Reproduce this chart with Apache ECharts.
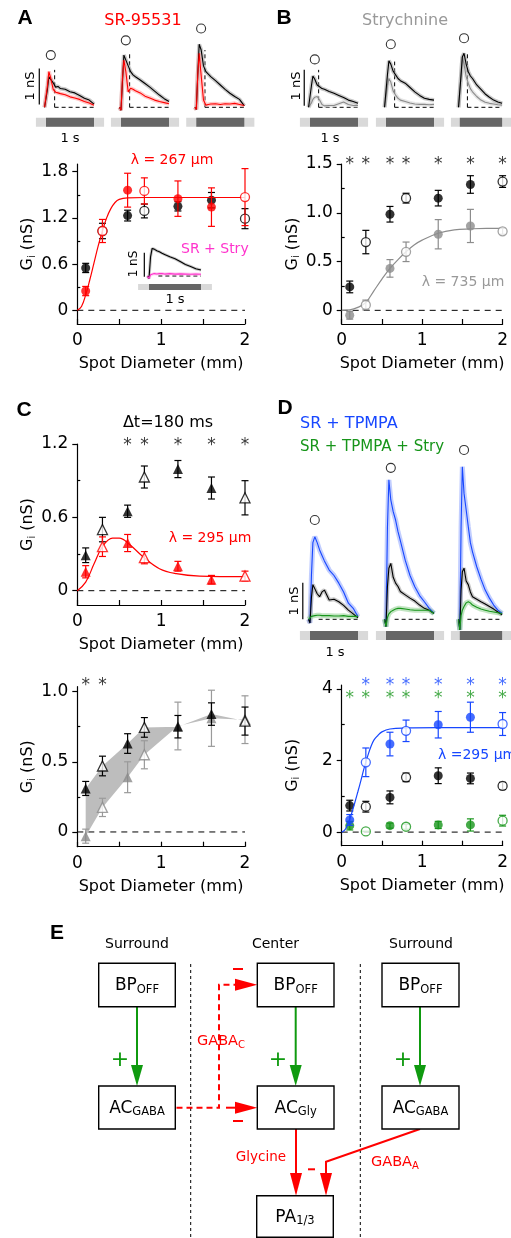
<!DOCTYPE html>
<html><head><meta charset="utf-8">
<script src="https://cdn.jsdelivr.net/npm/echarts@6/dist/echarts.min.js"></script>
<style>html,body{margin:0;padding:0;background:#fff}#c{width:511px;height:1238px}</style>
</head><body><div id="c"></div>
<script>
// ================= DATA =================
const diam = [0.1, 0.3, 0.6, 0.8, 1.2, 1.6, 2.0];
const filled = [1, 0, 1, 0, 1, 1, 0];

// Panel A (SR-95531)
const aCtrl    = [0.55, 1.03, 1.23, 1.29, 1.35, 1.43, 1.19];
const aCtrlErr = [0.06, 0.10, 0.07, 0.09, 0.06, 0.10, 0.13];
const aSR      = [0.25, 1.03, 1.56, 1.55, 1.45, 1.34, 1.47];
const aSRErr   = [0.06, 0.15, 0.22, 0.17, 0.23, 0.25, 0.37];
const aFitX = [0, 0.05, 0.1, 0.15, 0.2, 0.25, 0.3, 0.35, 0.4, 0.45, 0.5, 0.6, 0.8, 1.2, 1.6, 2.0];
const aFitY = [0, 0.05, 0.2, 0.4, 0.62, 0.84, 1.03, 1.2, 1.32, 1.4, 1.44, 1.46, 1.465, 1.465, 1.465, 1.465];

// Panel B (Strychnine)
const bCtrl    = [0.24, 0.70, 0.985, 1.15, 1.15, 1.29, 1.32];
const bCtrlErr = [0.06, 0.12, 0.08, 0.05, 0.08, 0.09, 0.06];
const bStry    = [-0.05, 0.055, 0.43, 0.60, 0.78, 0.865, 0.81];
const bStryErr = [0.04, 0.05, 0.09, 0.10, 0.15, 0.17, 0.03];
const bFitX = [0, 0.1, 0.2, 0.3, 0.4, 0.5, 0.6, 0.7, 0.8, 0.9, 1.0, 1.2, 1.4, 1.6, 1.8, 2.0];
const bFitY = [0, 0.005, 0.03, 0.08, 0.2, 0.32, 0.43, 0.52, 0.6, 0.67, 0.72, 0.79, 0.825, 0.835, 0.84, 0.84];
const bStars = [0.1, 0.3, 0.6, 0.8, 1.2, 1.6, 2.0];

// Panel C top (Δt = 180 ms)
const cCtrl    = [0.29, 0.50, 0.65, 0.93, 0.995, 0.84, 0.76];
const cCtrlErr = [0.06, 0.10, 0.05, 0.09, 0.07, 0.09, 0.14];
const cSR      = [0.155, 0.36, 0.39, 0.27, 0.20, 0.09, 0.12];
const cSRErr   = [0.05, 0.08, 0.07, 0.05, 0.04, 0.035, 0.04];
const cFitX = [0, 0.1, 0.2, 0.3, 0.42, 0.5, 0.62, 0.78, 0.98, 1.18, 1.46, 2.0];
const cFitY = [0, 0.07, 0.22, 0.36, 0.43, 0.43, 0.38, 0.28, 0.18, 0.14, 0.12, 0.115];
const cStars = [0.6, 0.8, 1.2, 1.6, 2.0];

// Panel C bottom
const c2Ctrl    = [0.31, 0.47, 0.63, 0.745, 0.75, 0.84, 0.79];
const c2CtrlErr = [0.05, 0.07, 0.07, 0.07, 0.08, 0.08, 0.10];
const c2Stry    = [-0.03, 0.175, 0.39, 0.55, 0.755, 0.81, 0.80];
const c2StryErr = [0.05, 0.065, 0.11, 0.10, 0.17, 0.20, 0.17];
const c2Stars = [0.1, 0.3];

// Panel D
const dCtrl    = [0.74, 0.71, 0.97, 1.53, 1.575, 1.50, 1.29];
const dCtrlErr = [0.15, 0.15, 0.18, 0.12, 0.22, 0.15, 0.10];
const dTp      = [0.34, 1.95, 2.46, 2.83, 3.0, 3.21, 3.02];
const dTpErr   = [0.15, 0.40, 0.33, 0.30, 0.37, 0.42, 0.32];
const dTpS     = [0.18, 0.02, 0.18, 0.15, 0.20, 0.20, 0.32];
const dTpSErr  = [0.12, 0.0, 0.07, 0.07, 0.10, 0.17, 0.15];
const dFitX = [0, 0.04, 0.08, 0.12, 0.16, 0.2, 0.24, 0.28, 0.32, 0.36, 0.4, 0.45, 0.5, 0.6, 0.8, 1.2, 2.0];
const dFitY = [0, 0.06, 0.25, 0.5, 0.8, 1.12, 1.45, 1.8, 2.1, 2.37, 2.57, 2.7, 2.8, 2.88, 2.91, 2.92, 2.92];
const dStarsBlue  = [0.3, 0.6, 0.8, 1.2, 1.6, 2.0];
const dStarsGreen = [0.1, 0.3, 0.6, 0.8, 1.2, 1.6, 2.0];

// Conductance traces (time in s, values in nS)
const tT = [-0.03, 0, 0.03, 0.06, 0.1, 0.15, 0.2, 0.25, 0.3, 0.4, 0.5, 0.6, 0.7, 0.8, 0.9, 1.0];
const A1ctrl = [0, -0.05, 0.5, 0.85, 0.9, 0.68, 0.56, 0.58, 0.52, 0.5, 0.43, 0.4, 0.33, 0.25, 0.2, 0.09];
const A1sr   = [0, -0.05, 0.6, 0.99, 0.8, 0.5, 0.42, 0.4, 0.38, 0.35, 0.29, 0.26, 0.22, 0.16, 0.12, 0.06];
const A2ctrl = [0, -0.08, 0.7, 1.45, 1.5, 1.15, 0.99, 0.9, 0.85, 0.76, 0.66, 0.56, 0.45, 0.34, 0.24, 0.16];
const A2sr   = [0, -0.08, 0.8, 1.31, 1.0, 0.43, 0.53, 0.5, 0.46, 0.4, 0.31, 0.26, 0.2, 0.16, 0.13, 0.1];
const A3ctrl = [0, -0.06, 0.9, 1.75, 1.6, 1.15, 0.99, 0.92, 0.85, 0.74, 0.62, 0.5, 0.39, 0.3, 0.22, 0.04];
const A3sr   = [0, -0.06, 0.9, 1.5, 0.9, 0.2, 0.06, 0.08, 0.09, 0.1, 0.08, 0.1, 0.09, 0.11, 0.08, 0.05];
const AinCtrl = [0, -0.1, 0.8, 1.15, 1.12, 1.05, 1.01, 0.95, 0.9, 0.8, 0.72, 0.6, 0.48, 0.4, 0.3, 0.25];
const AinStry = [0, -0.1, 0.05, 0.08, 0.1, 0.08, 0.1, 0.1, 0.08, 0.1, 0.08, 0.09, 0.08, 0.07, 0.08, 0.07];
const B1ctrl = [0, -0.04, 0.6, 0.87, 0.78, 0.62, 0.57, 0.52, 0.5, 0.44, 0.39, 0.33, 0.27, 0.2, 0.16, 0.11];
const B1stry = [0, -0.04, 0.12, 0.22, 0.28, 0.3, 0.2, 0.08, 0.04, 0.05, 0.05, 0.1, 0.15, 0.08, 0.05, 0.05];
const B2ctrl = [0, -0.05, 0.9, 1.29, 1.2, 1.0, 0.9, 0.8, 0.74, 0.67, 0.55, 0.43, 0.33, 0.25, 0.22, 0.2];
const B2stry = [0, -0.05, 0.6, 0.8, 0.7, 0.45, 0.34, 0.25, 0.2, 0.16, 0.12, 0.09, 0.08, 0.08, 0.07, 0.08];
const B3ctrl = [0, -0.05, 0.9, 1.4, 1.5, 1.2, 0.99, 0.87, 0.8, 0.62, 0.5, 0.37, 0.28, 0.2, 0.15, 0.11];
const B3stry = [0, -0.05, 0.9, 1.4, 1.2, 0.85, 0.67, 0.52, 0.43, 0.3, 0.2, 0.14, 0.11, 0.09, 0.07, 0.06];
const D1tp  = [0, -0.1, 1.2, 2.1, 2.26, 2.1, 1.9, 1.75, 1.6, 1.35, 1.2, 0.99, 0.75, 0.44, 0.3, 0.07];
const D1ctrl= [0, -0.1, 0.6, 0.95, 0.99, 0.7, 0.62, 0.75, 0.8, 0.53, 0.55, 0.48, 0.38, 0.25, 0.15, 0.04];
const D1tps = [0, -0.05, 0.08, 0.1, 0.1, 0.11, 0.11, 0.1, 0.1, 0.1, 0.09, 0.09, 0.1, 0.08, 0.08, 0.08];
const D2tp  = [0, -0.2, 2.5, 3.82, 3.27, 2.95, 2.72, 2.4, 2.15, 1.62, 1.2, 0.89, 0.65, 0.48, 0.3, 0.16];
const D2ctrl= [0, -0.2, 0.9, 1.4, 1.53, 1.15, 0.99, 0.9, 0.76, 0.67, 0.58, 0.5, 0.39, 0.3, 0.25, 0.16];
const D2tps = [0, -0.2, 0.05, 0.15, 0.21, 0.25, 0.28, 0.3, 0.3, 0.28, 0.26, 0.25, 0.25, 0.25, 0.25, 0.16];
const D3tp  = [0, -0.29, 2.5, 4.18, 3.45, 3.0, 2.54, 2.1, 1.85, 1.44, 1.1, 0.8, 0.58, 0.39, 0.25, 0.16];
const D3ctrl= [0, -0.29, 0.8, 1.3, 1.4, 1.05, 0.95, 0.75, 0.62, 0.55, 0.48, 0.42, 0.35, 0.28, 0.2, 0.12];
const D3tps = [0, -0.29, 0.1, 0.25, 0.35, 0.45, 0.48, 0.45, 0.39, 0.33, 0.28, 0.25, 0.22, 0.2, 0.18, 0.16];
// peak markers (○) above traces: [time, nS]
const circA = [1.45, 1.86, 2.19];
const circB = [1.33, 1.75, 1.92];
const circD = [2.72, 4.15, 4.64];
const circT = 0.1;
const stim = [0, 1.0];     // light step (s)
const dtMark = 0.18;       // Δt = 180 ms

// ================= BUILD =================
const FF = '"DejaVu Sans", sans-serif';
const RED = '#ff0000', GRAY = '#8c8c8c', BLUE = '#1747ff', GREEN = '#17951a', MAG = '#ff33cc';
const grids = [], xAxes = [], yAxes = [], series = [], graphics = [];

const gRich = {
  g: {fontSize: 16, fontFamily: FF, color: '#000', lineHeight: 18},
  s: {fontSize: 10, fontFamily: FF, color: '#000', lineHeight: 10, verticalAlign: 'bottom'}
};

function scatterPanel(box, yr, majors, minors, fmt) {
  const gi = grids.length; grids.push(box);
  const xi = xAxes.length;
  xAxes.push({gridIndex: gi, type: 'value', min: 0, max: 2, interval: 1,
    axisLine: {onZero: false, lineStyle: {color: '#000', width: 1.2}},
    axisTick: {inside: true, length: 5, lineStyle: {color: '#000', width: 1.2}},
    minorTick: {show: true, splitNumber: 2, length: 5, lineStyle: {color: '#000', width: 1.2}},
    splitLine: {show: false}, minorSplitLine: {show: false},
    axisLabel: {color: '#000', fontSize: 17, fontFamily: FF, margin: 8},
    name: 'Spot Diameter (mm)', nameLocation: 'middle', nameGap: 32,
    nameTextStyle: {color: '#000', fontSize: 16, fontFamily: FF}});
  const yi = yAxes.length;
  yAxes.push({gridIndex: gi, type: 'value', min: yr[0], max: yr[1],
    axisLine: {show: true, onZero: false, lineStyle: {color: '#000', width: 1.2}},
    axisTick: {show: true, customValues: majors, length: 5, lineStyle: {color: '#000', width: 1.2}},
    axisLabel: {customValues: majors, formatter: fmt, color: '#000', fontSize: 17, fontFamily: FF, margin: 9},
    splitLine: {show: false},
    name: '{g|G}{s|i}{g| (nS)}', nameLocation: 'middle', nameRotate: 90, nameGap: 40,
    nameTextStyle: {rich: gRich}});
  yAxes.push({gridIndex: gi, type: 'value', min: yr[0], max: yr[1],
    axisLine: {show: false}, axisLabel: {show: false}, splitLine: {show: false},
    axisTick: {show: true, customValues: minors, length: 3, lineStyle: {color: '#000', width: 1.2}}});
  return {xi, yi};
}

function tracePanel(stimLeft, pxPerS, pxPerNS, baseY, yr) {
  const pad = 0.21;
  const gi = grids.length;
  grids.push({left: stimLeft - pad * pxPerS, top: baseY - yr[1] * pxPerNS,
    width: (1 + 2 * pad) * pxPerS, height: (yr[1] - yr[0]) * pxPerNS});
  const xi = xAxes.length, yi = yAxes.length;
  xAxes.push({gridIndex: gi, type: 'value', min: -pad, max: 1 + pad, show: false});
  yAxes.push({gridIndex: gi, type: 'value', min: yr[0], max: yr[1], show: false});
  return {xi, yi, pad};
}

function lineS(ax, xs, ys, color, width, o = {}) {
  return Object.assign({type: 'line', xAxisIndex: ax.xi, yAxisIndex: ax.yi,
    data: xs.map((x, i) => [x, ys[i]]), showSymbol: false, symbol: 'none',
    smooth: o.smooth || false, clip: false, silent: true, animation: false, z: o.z || 3,
    lineStyle: {color, width, type: o.dash || 'solid', opacity: o.opacity ?? 1}}, o.extra || {});
}

function pointsS(ax, vals, color, sym, size, z) {
  return {type: 'scatter', xAxisIndex: ax.xi, yAxisIndex: ax.yi, clip: false, silent: true,
    animation: false, symbol: sym, symbolSize: size, z,
    data: diam.map((d, i) => ({value: [d, vals[i]],
      itemStyle: filled[i] ? {color} : {color: '#fff', borderColor: color, borderWidth: 1.3}}))};
}

function errS(ax, vals, errs, color, z) {
  return {type: 'custom', xAxisIndex: ax.xi, yAxisIndex: ax.yi, clip: false, silent: true, z,
    animation: false, encode: {x: 0, y: [1, 2]},
    data: diam.map((d, i) => [d, vals[i] - errs[i], vals[i] + errs[i]]),
    renderItem: (p, api) => {
      const x = api.value(0);
      const lo = api.coord([x, api.value(1)]), hi = api.coord([x, api.value(2)]);
      const c = 3.5, st = {stroke: color, lineWidth: 1.2};
      return {type: 'group', children: [
        {type: 'line', shape: {x1: lo[0], y1: lo[1], x2: hi[0], y2: hi[1]}, style: st},
        {type: 'line', shape: {x1: lo[0] - c, y1: lo[1], x2: lo[0] + c, y2: lo[1]}, style: st},
        {type: 'line', shape: {x1: hi[0] - c, y1: hi[1], x2: hi[0] + c, y2: hi[1]}, style: st}]};
    }};
}

function starsS(ax, xs, level, color) {
  return {type: 'scatter', xAxisIndex: ax.xi, yAxisIndex: ax.yi, clip: false, silent: true,
    animation: false, symbolSize: 1, itemStyle: {color: 'rgba(0,0,0,0)'}, z: 6,
    label: {show: true, position: 'inside', formatter: '*', color, fontSize: 17, fontFamily: FF},
    data: xs.map(x => [x, level])};
}

function zeroLine(ax) {
  return lineS(ax, [0, 2], [0, 0], '#000', 1, {dash: [6, 5], z: 1});
}

const fmtA = v => v === 0 ? '0' : v.toFixed(1);
const fmtI = v => String(v);

// ---- Panel A scatter
const pA = scatterPanel({left: 77.3, top: 164, width: 167.7, height: 160}, [-0.178, 1.9],
  [0, 0.6, 1.2, 1.8], [0.3, 0.9, 1.5], fmtA);
series.push(zeroLine(pA));
series.push(errS(pA, aCtrl, aCtrlErr, '#000', 3));
series.push(pointsS(pA, aCtrl, '#000', 'circle', 9, 4));
series.push(lineS(pA, aFitX, aFitY, RED, 1.2, {smooth: 0.4, z: 5}));
series.push(errS(pA, aSR, aSRErr, RED, 5));
series.push(pointsS(pA, aSR, RED, 'circle', 9, 6));

// ---- Panel B scatter
const pB = scatterPanel({left: 341.7, top: 164, width: 165.6, height: 160}, [-0.14, 1.5],
  [0, 0.5, 1.0, 1.5], [0.25, 0.75, 1.25], fmtA);
series.push(zeroLine(pB));
series.push(lineS(pB, bFitX, bFitY, GRAY, 1.2, {smooth: 0.4, z: 2}));
series.push(errS(pB, bCtrl, bCtrlErr, '#000', 3));
series.push(pointsS(pB, bCtrl, '#000', 'circle', 9, 4));
series.push(errS(pB, bStry, bStryErr, GRAY, 3));
series.push(pointsS(pB, bStry, GRAY, 'circle', 9, 4));
series.push(starsS(pB, bStars, 1.495, '#000'));

// ---- Panel C top
const pC = scatterPanel({left: 77.3, top: 444, width: 167.7, height: 161}, [-0.117, 1.2],
  [0, 0.6, 1.2], [0.3, 0.9], fmtA);
series.push(zeroLine(pC));
series.push(errS(pC, cCtrl, cCtrlErr, '#000', 3));
series.push(pointsS(pC, cCtrl, '#000', 'triangle', 10, 4));
series.push(lineS(pC, cFitX, cFitY, RED, 1.2, {smooth: 0.4, z: 5}));
series.push(errS(pC, cSR, cSRErr, RED, 5));
series.push(pointsS(pC, cSR, RED, 'triangle', 10, 6));
series.push(starsS(pC, cStars, 1.19, '#000'));

// ---- Panel C bottom
const pC2 = scatterPanel({left: 77.3, top: 686.7, width: 167.7, height: 160}, [-0.105, 1.035],
  [0, 0.5, 1.0], [0.25, 0.75], fmtA);
series.push(zeroLine(pC2));
series.push({type: 'custom', xAxisIndex: pC2.xi, yAxisIndex: pC2.yi, clip: false, silent: true,
  animation: false, z: 2, data: [[0, 0]],
  renderItem: (p, api) => {
    const top = diam.map((d, i) => api.coord([d, c2Ctrl[i]]));
    const bot = diam.map((d, i) => api.coord([d, c2Stry[i]])).reverse();
    return {type: 'polygon', shape: {points: top.concat(bot)}, style: {fill: '#bdbdbd'}};
  }});
series.push(errS(pC2, c2Stry, c2StryErr, '#9a9a9a', 3));
series.push(pointsS(pC2, c2Stry, '#8a8a8a', 'triangle', 10, 4));
series.push(errS(pC2, c2Ctrl, c2CtrlErr, '#000', 5));
series.push(pointsS(pC2, c2Ctrl, '#000', 'triangle', 10, 6));
series.push(starsS(pC2, c2Stars, 1.042, '#000'));

// ---- Panel D scatter
const pD = scatterPanel({left: 341.7, top: 685, width: 165.6, height: 160.7}, [-0.38, 4.11],
  [0, 2, 4], [1, 3], fmtI);
series.push(zeroLine(pD));
series.push(errS(pD, dCtrl, dCtrlErr, '#000', 3));
series.push(pointsS(pD, dCtrl, '#000', 'circle', 9, 4));
series.push(errS(pD, dTpS, dTpSErr, GREEN, 3));
series.push(pointsS(pD, dTpS, GREEN, 'circle', 9, 4));
series.push(lineS(pD, dFitX, dFitY, BLUE, 1.2, {smooth: 0.4, z: 5}));
series.push(errS(pD, dTp, dTpErr, BLUE, 5));
series.push(pointsS(pD, dTp, BLUE, 'circle', 9, 6));
series.push(starsS(pD, dStarsBlue, 4.09, BLUE));
series.push(starsS(pD, dStarsGreen, 3.74, GREEN));

// ---- Traces
function addTrace(ax, vals, color, band, bandW) {
  series.push(lineS(ax, tT, vals, band, bandW, {z: 2, opacity: 0.55}));
  series.push(lineS(ax, tT, vals, color, 1.1, {z: 3}));
}
function traceDecor(ax, barY, vDash, circY, scale) {
  series.push(lineS(ax, [dtMark, stim[1]], [0, 0], '#000', 1, {dash: [4, 3], z: 1, extra: {
    markArea: {silent: true, data: [
      [{coord: [stim[0] - ax.pad, barY[0]], itemStyle: {color: '#d9d9d9'}}, {coord: [stim[1] + ax.pad, barY[1]]}],
      [{coord: [stim[0], barY[0]], itemStyle: {color: '#666666'}}, {coord: [stim[1], barY[1]]}]]}}}));
  if (vDash !== null) series.push(lineS(ax, [dtMark, dtMark], [0, vDash], '#000', 1, {dash: [4, 3], z: 1}));
  if (circY !== null) series.push({type: 'scatter', xAxisIndex: ax.xi, yAxisIndex: ax.yi, clip: false,
    silent: true, animation: false, symbol: 'circle', symbolSize: 9, z: 6,
    itemStyle: {color: '#fff', borderColor: '#000', borderWidth: 1.1}, data: [[circT, circY]]});
  if (scale) series.push(lineS(ax, [scale[0], scale[0]], [scale[1], scale[1] + 1], '#000', 1.2, {z: 4}));
}

const trA = [46, 121, 196.3].map(l => tracePanel(l, 48, 36, 107.3, [-0.6, 2.4]));
addTrace(trA[0], A1ctrl, '#000', '#9a9a9a', 4); addTrace(trA[0], A1sr, RED, '#ff9a9a', 4);
addTrace(trA[1], A2ctrl, '#000', '#9a9a9a', 4); addTrace(trA[1], A2sr, RED, '#ff9a9a', 4);
addTrace(trA[2], A3ctrl, '#000', '#9a9a9a', 4); addTrace(trA[2], A3sr, RED, '#ff9a9a', 4);
traceDecor(trA[0], [-0.29, -0.54], 1.04, circA[0], [-0.14, 0.08]);
traceDecor(trA[1], [-0.29, -0.54], 1.54, circA[1], null);
traceDecor(trA[2], [-0.29, -0.54], 1.59, circA[2], null);

const trIn = tracePanel(149, 52, 24, 276, [-0.6, 1.5]);
addTrace(trIn, AinCtrl, '#000', '#9a9a9a', 3); addTrace(trIn, AinStry, MAG, '#ffa0e6', 3);
traceDecor(trIn, [-0.33, -0.58], null, null, [-0.09, -0.03]);

const trB = [310, 386, 461].map(l => tracePanel(l, 48, 36, 107.3, [-0.6, 2.4]));
addTrace(trB[0], B1stry, '#8a8a8a', '#cfcfcf', 4); addTrace(trB[0], B1ctrl, '#000', '#9a9a9a', 4);
addTrace(trB[1], B2stry, '#8a8a8a', '#cfcfcf', 4); addTrace(trB[1], B2ctrl, '#000', '#9a9a9a', 4);
addTrace(trB[2], B3stry, '#8a8a8a', '#cfcfcf', 4); addTrace(trB[2], B3ctrl, '#000', '#9a9a9a', 4);
traceDecor(trB[0], [-0.29, -0.54], 1.04, circB[0], [-0.12, 0.04]);
traceDecor(trB[1], [-0.29, -0.54], 1.27, circB[1], null);
traceDecor(trB[2], [-0.29, -0.54], 1.5, circB[2], null);

const trD = [310, 386, 461].map(l => tracePanel(l, 48, 36.5, 619.3, [-0.6, 4.8]));
[[D1tp, D1ctrl, D1tps], [D2tp, D2ctrl, D2tps], [D3tp, D3ctrl, D3tps]].forEach((s, i) => {
  addTrace(trD[i], s[0], BLUE, '#8fa6ff', 5);
  addTrace(trD[i], s[1], '#000', '#9a9a9a', 4);
  addTrace(trD[i], s[2], GREEN, '#8fd08f', 5);
  traceDecor(trD[i], [-0.32, -0.57], null, circD[i], i === 0 ? [-0.15, 0] : null);
});

// ---- Text annotations
function T(x, y, text, o = {}) {
  const el = {type: 'text', x, y, z: 100, style: {text, fill: o.fill || '#000',
    fontSize: o.size || 14, fontFamily: o.family || FF, fontWeight: o.weight || 'normal',
    align: o.align || 'center', verticalAlign: o.va || 'middle'}};
  if (o.rich) el.style.rich = o.rich;
  if (o.rot) el.rotation = o.rot;
  return el;
}
const LF = '"Liberation Sans", Arial, sans-serif';
graphics.push(T(25, 18, 'A', {size: 21, weight: 'bold', family: LF}));
graphics.push(T(284, 18, 'B', {size: 21, weight: 'bold', family: LF}));
graphics.push(T(24, 410, 'C', {size: 21, weight: 'bold', family: LF}));
graphics.push(T(285, 408, 'D', {size: 21, weight: 'bold', family: LF}));
graphics.push(T(57, 933, 'E', {size: 21, weight: 'bold', family: LF}));
graphics.push(T(143, 21, 'SR-95531', {fill: RED, size: 16}));
graphics.push(T(405, 21, 'Strychnine', {fill: '#999', size: 16}));
graphics.push(T(172, 160, 'λ = 267 µm', {fill: RED, size: 14}));
graphics.push(T(463, 282, 'λ = 735 µm', {fill: '#999', size: 14}));
graphics.push(T(210, 538, 'λ = 295 µm', {fill: RED, size: 14}));
graphics.push(T(438, 755, 'λ =295 µm', {fill: BLUE, size: 14, align: 'left'}));
graphics.push(T(181, 249, 'SR + Stry', {fill: MAG, size: 14, align: 'left'}));
graphics.push(T(168, 423, 'Δt=180 ms', {size: 16}));
graphics.push(T(300, 424, 'SR + TPMPA', {fill: BLUE, size: 16, align: 'left'}));
graphics.push(T(300, 447, 'SR + TPMPA + Stry', {fill: GREEN, size: 15, align: 'left'}));
graphics.push(T(70, 139, '1 s', {size: 13}));
graphics.push(T(330, 139, '1 s', {size: 13}));
graphics.push(T(335, 653, '1 s', {size: 13}));
graphics.push(T(175, 300, '1 s', {size: 13}));
graphics.push(T(31, 86, '1 nS', {size: 13, rot: Math.PI / 2}));
graphics.push(T(297, 86, '1 nS', {size: 13, rot: Math.PI / 2}));
graphics.push(T(295, 601, '1 nS', {size: 13, rot: Math.PI / 2}));
graphics.push(T(134, 264, '1 nS', {size: 12, rot: Math.PI / 2}));

// ---- Panel E: circuit diagram
const bRich = {b: {fontSize: 17, fontFamily: FF, fill: '#000', lineHeight: 20},
  s: {fontSize: 11.5, fontFamily: FF, fill: '#000', lineHeight: 11, verticalAlign: 'bottom'}};
const rRich = {b: {fontSize: 14.5, fontFamily: FF, fill: RED, lineHeight: 18},
  s: {fontSize: 10, fontFamily: FF, fill: RED, lineHeight: 9, verticalAlign: 'bottom'}};
function box(x, y, w, h, main, sub) {
  graphics.push({type: 'rect', z: 50, shape: {x, y, width: w, height: h},
    style: {fill: '#fff', stroke: '#000', lineWidth: 1.4}});
  graphics.push(T(x + w / 2, y + h / 2 + 1, `{b|${main}}{s|${sub}}`, {rich: bRich}));
}
const L = (x1, y1, x2, y2, c, w, dash) => ({type: 'line', z: 40, shape: {x1, y1, x2, y2},
  style: {stroke: c, lineWidth: w, lineDash: dash || null}});
const P = (pts, c) => ({type: 'polygon', z: 41, shape: {points: pts}, style: {fill: c}});

graphics.push(L(190.7, 964, 190.7, 1238, '#000', 1, [3, 3]));
graphics.push(L(360.3, 964, 360.3, 1238, '#000', 1, [3, 3]));
graphics.push(T(137, 944, 'Surround', {size: 14}));
graphics.push(T(275.5, 944, 'Center', {size: 14}));
graphics.push(T(421, 944, 'Surround', {size: 14}));
box(98.7, 963.3, 76.6, 43.4, 'BP', 'OFF');
box(257.3, 963.3, 76.7, 43.4, 'BP', 'OFF');
box(382, 963.3, 77, 43.4, 'BP', 'OFF');
box(98.7, 1086, 76.6, 43, 'AC', 'GABA');
box(257.3, 1086, 76.7, 43, 'AC', 'Gly');
box(382, 1086, 77, 43, 'AC', 'GABA');
box(256.7, 1195.7, 76.6, 41.5, 'PA', '1/3');
const GRN = '#0f9a0f';
[137, 295.7, 420].forEach((x, i) => {
  graphics.push(L(x, 1006.7, x, 1068, GRN, 2));
  graphics.push(P([[x - 6, 1065], [x + 6, 1065], [x, 1086]], GRN));
  graphics.push(T([120, 278, 403][i], 1060, '+', {fill: GRN, size: 22}));
});
graphics.push({type: 'polyline', z: 40, shape: {points: [[176.5, 1107.7], [219, 1107.7], [219, 984.7], [238, 984.7]]},
  style: {stroke: RED, lineWidth: 2, lineDash: [6, 4], fill: null}});
graphics.push(L(226, 1107.7, 238, 1107.7, RED, 2));
graphics.push(P([[235, 978.7], [235, 990.7], [257.3, 984.7]], RED));
graphics.push(P([[235, 1101.7], [235, 1113.7], [257.3, 1107.7]], RED));
graphics.push(L(233, 969, 243, 969, RED, 2));
graphics.push(L(233, 1121, 243, 1121, RED, 2));
graphics.push(L(296, 1129, 296, 1176, RED, 2));
graphics.push(P([[290, 1173], [302, 1173], [296, 1195.7]], RED));
graphics.push({type: 'polyline', z: 40, shape: {points: [[420, 1129], [326, 1161.7], [326, 1176]]},
  style: {stroke: RED, lineWidth: 2, fill: null}});
graphics.push(P([[320, 1173], [332, 1173], [326, 1195.7]], RED));
graphics.push(L(308, 1169.3, 315, 1169.3, RED, 2));
graphics.push(T(197, 1041, '{b|GABA}{s|C}', {rich: rRich, align: 'left'}));
graphics.push(T(286, 1157, 'Glycine', {fill: RED, size: 13.5, align: 'right'}));
graphics.push(T(371, 1162, '{b|GABA}{s|A}', {rich: rRich, align: 'left'}));

const chart = echarts.init(document.getElementById('c'), null, {renderer: 'canvas'});
chart.setOption({
  animation: false, backgroundColor: '#fff',
  grid: grids, xAxis: xAxes, yAxis: yAxes, series, graphic: graphics
});
</script></body></html>
